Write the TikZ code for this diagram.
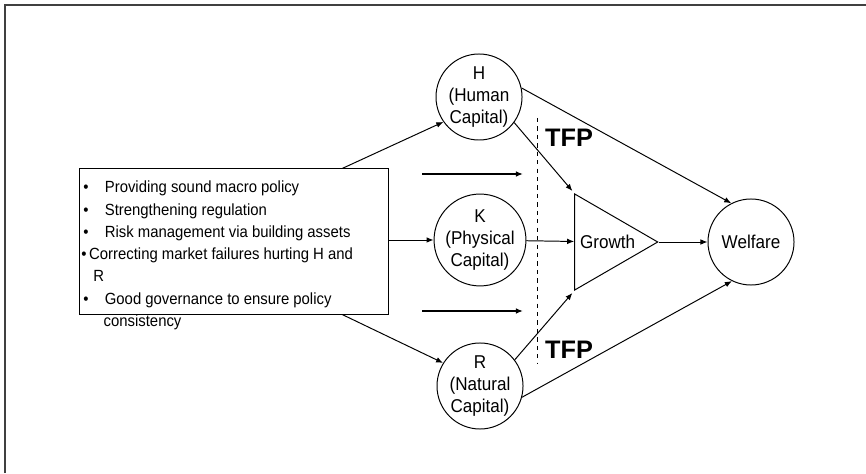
\documentclass[tikz,border=0pt]{standalone}
\usepackage{fontspec}
\setmainfont{Liberation Sans}[FakeStretch=0.92]
\newfontfamily\tfpfont{Liberation Sans}
\usepackage{tikz}
\usetikzlibrary{arrows.meta}
\usetikzlibrary{shapes.geometric}
\usetikzlibrary{calc}
\tikzset{%
  base/.style = {draw=black, line width=0.7pt},
  capital/.style = {base, circle, minimum size=2.15cm, inner sep=0pt, align=center, font=\fontsize{13.2}{15.5}\selectfont},
  gtri/.style = {base, isosceles triangle, isosceles triangle stretches, minimum width=2.4cm, minimum height=2.075cm, inner sep=0pt, font=\fontsize{13.2}{15.5}\selectfont},
  tfp/.style = {font=\tfpfont\fontsize{18}{20}\selectfont\bfseries},
  flow/.style = {->, line width=0.7pt},
  push/.style = {->, line width=1.8pt}
}

\begin{document}
\begin{tikzpicture}[x=0.025cm, y=0.025cm, >={Latex[length=5pt,width=4pt]}]
  \useasboundingbox (0,0) rectangle (866,473);
  \draw[line width=1pt, black!75] (5,0) -- (5,468) -- (866,468);

  % policy box and its list
  \node[base, rectangle, minimum width=7.7cm, minimum height=3.625cm] (box) at (234,231.5) {};
  \node[anchor=north west, inner sep=0pt, align=left, font=\fontsize{11.5}{15.8}\selectfont] (list) at (83,292) {%
    \textbullet\hspace*{0.41cm}Providing sound macro policy\\
    \textbullet\hspace*{0.41cm}Strengthening regulation\\
    \textbullet\hspace*{0.41cm}Risk management via building assets\\
    \hspace*{-0.05cm}\textbullet\,Correcting market failures hurting H and\\
    \hspace*{0.25cm}R\\
    \textbullet\hspace*{0.41cm}Good governance to ensure policy\\
    \hspace*{0.51cm}consistency};

  % capitals, growth and welfare
  \node[capital] (H) at (479,376) {H\\(Human\\Capital)};
  \node[capital] (K) at (480,233) {K\\(Physical\\Capital)};
  \node[capital] (R) at (480,87) {R\\(Natural\\Capital)};
  \node[gtri, anchor=apex] (growth) at (659,231) {Growth};
  \node[capital] (welfare) at (751,231) {Welfare};

  % TFP split
  \coordinate (tfp-top) at (537,355);
  \coordinate (tfp-bot) at (537,110);
  \draw[dashed, line width=0.6pt] (tfp-top) -- (tfp-bot);
  \node[tfp] (tfp-h) at (569,335) {TFP};
  \node[tfp] (tfp-r) at (569,123) {TFP};

  % heavy arrows
  \coordinate (push-a) at (422,299);
  \coordinate (push-b) at (523,299);
  \coordinate (push-c) at (422,162);
  \coordinate (push-d) at (523,162);
  \draw[push] (push-a) -- (push-b);
  \draw[push] (push-c) -- (push-d);

  \coordinate (box-up) at ($(box.north west)!0.85!(box.north east)$);
  \coordinate (box-down) at ($(box.south west)!0.85!(box.south east)$);

  \draw[flow] (box-up) -- (H.215);
  \draw[flow] (box.east |- K) -- (K);
  \draw[flow] (box-down) -- (R.148);
  \draw[flow, shorten >=2pt] (H.324) -- (growth.left corner);
  \draw[flow] (K) -- (growth);
  \draw[flow, shorten >=2pt] (R.37) -- (growth.right corner);
  \draw[flow] (growth.apex) -- (welfare);
  \draw[flow] (H.12) -- (welfare.117);
  \draw[flow] (R.345) -- (welfare.244);
\end{tikzpicture}
\end{document}
